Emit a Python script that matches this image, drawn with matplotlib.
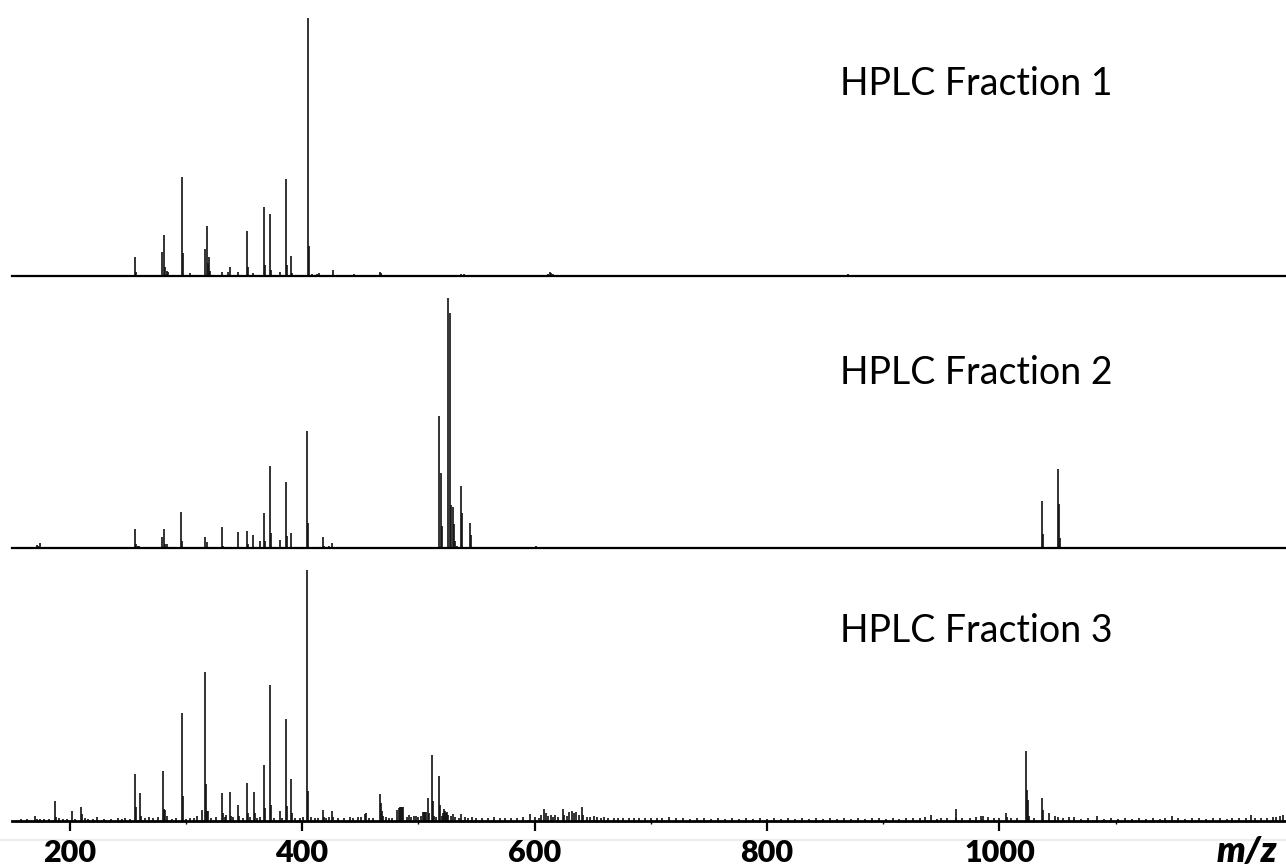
import matplotlib
matplotlib.use("Agg")
import matplotlib.pyplot as plt
from matplotlib.lines import Line2D
from matplotlib.ticker import FixedLocator

# ---------------- data (m/z, relative intensity %) ----------------
f1_mz = [256.5, 257.5, 279.8, 281.5, 282.5, 283.5, 284.5, 296.4, 297.4, 303.8,
         316.2, 317.9, 318.9, 319.6, 320.5, 330.8, 336.0, 337.7, 344.8, 352.9,
         353.9, 357.6, 366.9, 367.9, 372.5, 373.5, 380.7, 385.9, 386.9, 390.2,
         391.2, 405.1, 406.1, 408.5, 413.0, 415.0, 426.4, 445.0, 467.0, 468.0,
         505.0, 520.0, 532.0, 537.0, 539.0, 604.0, 612.0, 613.0, 614.0, 616.0,
         637.0, 815.0, 870.0, 1010.0]
f1_int = [7.3, 1.5, 9.4, 15.9, 3.5, 2.0, 1.5, 38.5, 9.0, 1.2,
          10.6, 19.4, 5.0, 7.4, 2.0, 1.5, 1.5, 3.5, 1.5, 17.4,
          3.5, 1.3, 26.6, 4.3, 24.0, 2.5, 1.6, 37.6, 4.3, 7.8,
          1.0, 100.0, 11.8, 0.8, 0.8, 1.0, 2.3, 0.8, 1.5, 1.0,
          0.5, 0.5, 0.5, 0.6, 0.6, 0.5, 0.8, 1.5, 1.2, 0.8,
          0.5, 0.5, 0.6, 0.4]

f2_mz = [172.2, 173.2, 174.8, 176.0, 202.0, 256.2, 257.2, 258.5, 260.0, 279.8,
         281.5, 282.5, 284.0, 296.1, 297.1, 316.2, 318.2, 330.8, 331.8, 337.0,
         345.2, 349.0, 352.6, 353.6, 358.1, 363.8, 367.2, 368.2, 372.1, 373.1,
         380.7, 385.9, 386.9, 390.2, 396.0, 404.5, 405.5, 418.0, 419.0, 423.0,
         426.0, 482.0, 518.2, 519.2, 520.2, 525.9, 526.9, 527.9, 529.8, 530.8,
         531.8, 533.5, 536.5, 537.5, 544.2, 545.2, 601.0, 1036.5, 1037.5, 1050.3,
         1051.3, 1052.3]
f2_int = [1.2, 0.8, 2.1, 0.6, 0.5, 7.5, 1.5, 0.8, 0.8, 4.5,
          7.5, 1.5, 1.6, 14.5, 3.0, 4.5, 2.3, 8.3, 1.0, 0.6,
          6.5, 0.6, 6.9, 1.5, 5.1, 2.8, 13.9, 3.0, 33.0, 6.0,
          3.2, 26.4, 5.0, 5.9, 0.6, 46.8, 10.0, 4.3, 0.8, 0.8,
          2.0, 0.4, 52.8, 30.0, 9.0, 100.0, 94.0, 17.2, 16.5, 9.6,
          3.0, 0.8, 24.9, 13.9, 10.1, 5.2, 0.8, 18.9, 5.6, 31.7,
          17.7, 4.0]

f3_mz = [158.0, 163.0, 169.9, 172.0, 175.0, 178.0, 182.0, 187.7, 188.7, 191.0,
         194.0, 198.0, 202.3, 205.0, 209.7, 210.7, 213.0, 216.0, 220.0, 224.0,
         230.0, 236.0, 242.0, 245.0, 248.0, 252.0, 256.2, 257.2, 260.5, 261.5,
         265.0, 268.0, 272.0, 276.0, 280.0, 281.0, 282.5, 284.0, 288.0, 292.0,
         296.4, 297.4, 300.0, 304.0, 307.0, 310.0, 313.9, 316.4, 317.4, 318.4,
         319.5, 322.0, 326.0, 330.8, 331.8, 334.0, 335.0, 337.7, 338.7, 341.0,
         345.2, 346.2, 349.0, 352.6, 353.6, 355.0, 358.3, 359.3, 361.0, 364.0,
         367.2, 368.2, 372.4, 373.4, 376.0, 380.7, 383.0, 385.9, 386.9, 390.2,
         391.2, 394.0, 398.0, 401.0, 404.5, 405.5, 408.0, 411.0, 414.0, 418.0,
         419.0, 421.0, 423.0, 426.0, 427.0, 431.0, 436.0, 441.0, 444.0, 448.0,
         451.0, 453.9, 454.8, 458.0, 461.0, 466.8, 467.8, 468.8, 469.8, 472.0,
         475.0, 477.0, 482.0, 483.0, 484.0, 485.0, 486.0, 487.0, 490.0, 492.0,
         494.0, 496.0, 498.0, 500.0, 502.0, 504.0, 505.0, 506.0, 507.0, 508.1,
         509.0, 511.5, 512.5, 513.5, 515.0, 517.8, 518.8, 520.0, 521.0, 522.0,
         523.0, 524.0, 525.0, 526.0, 528.0, 530.0, 532.0, 535.0, 537.0, 540.0,
         543.0, 546.0, 550.0, 555.0, 560.0, 565.0, 570.0, 575.0, 580.0, 585.0,
         590.0, 596.0, 600.0, 604.0, 606.0, 608.2, 609.5, 612.0, 614.0, 616.0,
         618.0, 620.0, 624.6, 625.6, 628.0, 630.0, 632.0, 634.0, 636.0, 638.0,
         640.9, 642.0, 645.0, 648.0, 651.0, 654.0, 657.0, 660.0, 663.0, 668.0,
         672.0, 676.0, 681.0, 686.0, 690.0, 695.0, 700.0, 705.0, 710.0, 716.0,
         722.0, 728.0, 734.0, 740.0, 746.0, 752.0, 758.0, 764.0, 770.0, 776.0,
         782.0, 788.0, 794.0, 800.0, 806.0, 812.0, 818.0, 824.0, 830.0, 836.0,
         842.0, 848.0, 854.0, 860.0, 866.0, 872.0, 878.0, 884.0, 890.0, 896.0,
         902.0, 908.0, 914.0, 920.0, 926.0, 932.0, 936.0, 940.7, 946.0, 950.0,
         955.0, 962.2, 963.0, 968.0, 975.0, 980.0, 984.0, 986.0, 990.0, 995.0,
         1000.0, 1005.5, 1006.5, 1010.0, 1015.0, 1022.4, 1023.4, 1024.4, 1025.4, 1030.0,
         1036.7, 1037.7, 1043.0, 1048.0, 1050.0, 1055.0, 1060.0, 1064.0, 1070.0, 1076.0,
         1083.5, 1090.0, 1096.0, 1102.0, 1108.0, 1114.0, 1120.0, 1126.0, 1132.0, 1138.0,
         1142.0, 1148.6, 1154.0, 1160.0, 1166.0, 1172.0, 1178.0, 1184.0, 1190.0, 1196.0,
         1200.0, 1206.0, 1212.0, 1216.3, 1220.0, 1225.0, 1230.0, 1235.0, 1238.0, 1241.0,
         1244.0]
f3_int = [0.6, 0.8, 2.0, 0.8, 0.8, 0.6, 0.8, 8.0, 1.5, 1.2,
          0.8, 0.6, 4.1, 0.8, 5.6, 2.7, 1.2, 0.8, 0.6, 1.6,
          0.6, 0.6, 1.2, 0.8, 1.2, 0.8, 18.9, 5.6, 11.2, 2.0,
          1.2, 1.6, 1.2, 1.6, 19.9, 4.9, 4.4, 2.0, 0.8, 1.0,
          43.0, 10.0, 0.8, 1.0, 1.2, 2.0, 4.4, 59.4, 14.7, 4.0,
          4.0, 1.2, 1.5, 11.2, 3.0, 1.5, 2.5, 11.6, 2.0, 1.5,
          6.5, 2.0, 1.2, 15.1, 3.0, 1.6, 11.6, 3.0, 1.2, 1.5,
          22.4, 5.0, 54.2, 6.5, 1.2, 3.9, 1.0, 40.6, 6.0, 16.9,
          3.0, 1.0, 1.2, 1.5, 100.0, 12.0, 1.5, 1.2, 1.0, 4.4,
          1.5, 1.0, 1.5, 4.0, 1.5, 1.0, 1.2, 1.5, 1.2, 1.5,
          1.5, 2.8, 3.2, 1.0, 1.2, 10.9, 7.0, 4.0, 2.0, 1.5,
          1.2, 1.0, 4.5, 5.2, 5.6, 5.6, 5.6, 5.6, 1.5, 2.5,
          1.5, 2.0, 2.0, 1.5, 2.0, 3.6, 3.6, 3.6, 3.6, 9.0,
          3.0, 26.2, 8.0, 2.0, 1.5, 17.9, 6.4, 2.0, 3.0, 4.7,
          4.0, 3.0, 3.5, 2.5, 2.0, 2.8, 1.5, 1.2, 2.8, 1.5,
          1.2, 1.6, 1.0, 1.0, 1.2, 1.5, 1.0, 1.2, 1.0, 1.2,
          1.5, 2.7, 1.5, 1.2, 2.5, 4.7, 3.0, 2.0, 2.5, 1.5,
          2.2, 1.5, 4.7, 2.5, 2.0, 3.5, 4.0, 3.0, 3.5, 2.5,
          5.7, 2.5, 1.5, 1.6, 2.0, 1.6, 1.2, 1.5, 1.0, 1.2,
          1.0, 1.2, 1.0, 1.2, 1.0, 1.2, 1.0, 1.0, 1.2, 1.6,
          1.0, 1.2, 0.8, 1.0, 1.2, 0.8, 1.0, 0.8, 1.0, 0.8,
          1.0, 0.8, 1.0, 0.8, 1.0, 0.8, 1.2, 0.8, 1.0, 0.8,
          1.0, 0.8, 1.0, 0.8, 1.0, 0.8, 1.0, 0.8, 1.0, 1.2,
          0.8, 1.0, 0.8, 1.0, 1.2, 1.0, 1.5, 2.4, 0.8, 1.0,
          1.0, 4.8, 1.2, 1.0, 1.0, 1.5, 2.0, 1.8, 1.5, 1.2,
          1.0, 3.2, 1.5, 1.0, 1.2, 27.9, 12.4, 8.4, 2.0, 1.0,
          9.0, 4.4, 3.2, 2.0, 1.5, 1.0, 1.5, 1.5, 0.8, 1.0,
          2.0, 0.8, 1.0, 0.8, 1.0, 0.8, 1.0, 0.8, 1.0, 0.8,
          1.0, 2.0, 1.0, 0.8, 1.0, 1.0, 0.8, 1.0, 1.0, 0.8,
          1.0, 1.0, 1.0, 2.4, 1.0, 1.2, 1.2, 1.6, 1.6, 2.0,
          2.4]

panels = [
    ("HPLC Fraction 1", f1_mz, f1_int),
    ("HPLC Fraction 2", f2_mz, f2_int),
    ("HPLC Fraction 3", f3_mz, f3_int),
]
major_ticks = [200, 400, 600, 800, 1000]
minor_ticks = [300, 500, 700, 900, 1100]
x_range = (150.5, 1246.5)

# ---------------- layout (pixels of a 1286x867 canvas) ----------------
W, H = 1286, 867
fig = plt.figure(figsize=(W / 100, H / 100), dpi=100)
fig.patch.set_facecolor("white")

# (baseline y, top-of-100% y, label baseline y)
geom = [(276, 18, 95), (548, 298, 384), (821, 570, 642)]
left_px = 12

# faint separator line behind the tick labels
fig.add_artist(Line2D([0, 1], [1 - 840 / H, 1 - 840 / H], transform=fig.transFigure,
                      color="#ececec", lw=1.5, zorder=0))

for i, ((label, mz, inten), (yb, yt, ylab)) in enumerate(zip(panels, geom)):
    ax = fig.add_axes([left_px / W, 1 - yb / H, 1 - left_px / W, (yb - yt) / H])
    ax.set_facecolor("none")
    ax.vlines(mz, 0, inten, color="#111111", lw=1.2, clip_on=False)
    ax.set_xlim(*x_range)
    ax.set_ylim(0, 100)
    for s in ("top", "right", "left"):
        ax.spines[s].set_visible(False)
    ax.spines["bottom"].set_linewidth(1.6 if i < 2 else 2.0)
    ax.spines["bottom"].set_color("black")
    ax.set_yticks([])
    if i < 2:
        ax.set_xticks([])
    else:
        ax.xaxis.set_major_locator(FixedLocator(major_ticks))
        ax.xaxis.set_minor_locator(FixedLocator(minor_ticks))
        ax.set_xticklabels([str(t) for t in major_ticks])
        ax.tick_params(axis="x", which="major", direction="out", length=7,
                       width=1.6, pad=6, labelsize=22)
        ax.tick_params(axis="x", which="minor", direction="out", length=2,
                       width=1.0)
        for t in ax.get_xticklabels():
            t.set_fontfamily("Lato")
            t.set_fontweight("heavy")
    fig.text(840 / W, 1 - ylab / H, label, ha="left", va="baseline",
             fontsize=27, family="Lato", color="black")

fig.text(1277 / W, 1 - 862 / H, "m/z", ha="right", va="baseline",
         fontsize=26, family="Lato", fontweight="heavy", fontstyle="italic")

fig.savefig("out.png", dpi=100)
